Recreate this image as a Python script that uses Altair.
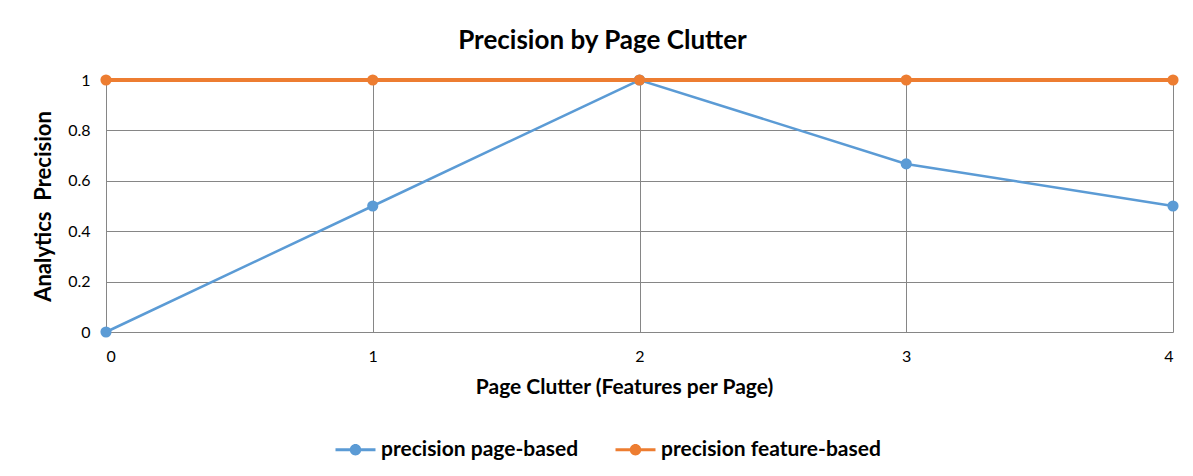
import altair as alt
import pandas as pd

clutter = [0, 1, 2, 3, 4]
page_based = [0, 0.5, 1, 0.667, 0.5]
feature_based = [1, 1, 1, 1, 1]
series_names = ["precision page-based", "precision feature-based"]
colors = ["#5B9BD5", "#ED7D31"]
line_widths = [2.5, 4]

rows = []
for x, v in zip(clutter, page_based):
    rows.append({"x": x, "y": v, "series": series_names[0]})
for x, v in zip(clutter, feature_based):
    rows.append({"x": x, "y": v, "series": series_names[1]})
df = pd.DataFrame(rows)

FONT = "Lato"
GRID = "#868686"

xenc = alt.X("x:Q", scale=alt.Scale(domain=[0, 4], nice=False),
             axis=alt.Axis(values=clutter, format="d", title="Page Clutter (Features per Page)",
                           grid=True, gridColor=GRID, gridOpacity=1, ticks=False, domain=False,
                           labelFont=FONT, labelFontSize=16, labelPadding=16, labelColor="#000000",
                           titleFont=FONT, titleFontSize=21, titleFontWeight="bold", titlePadding=12,
                           titleColor="#000000", titleX=518))
yenc = alt.Y("y:Q", scale=alt.Scale(domain=[0, 1], nice=False),
             axis=alt.Axis(values=[0, 0.2, 0.4, 0.6, 0.8, 1], format="~g",
                           title="Analytics\u00a0 Precision",
                           grid=True, gridColor=GRID, gridOpacity=1, ticks=False, domain=False,
                           labelFont=FONT, labelFontSize=16, labelPadding=16, labelColor="#000000",
                           titleFont=FONT, titleFontSize=22, titleFontWeight="bold", titlePadding=12,
                           titleColor="#000000"))

symbol = ("M-1.5,-0.11 H1.5 V0.11 H-1.5 Z "
          "M0.43,0 A0.43,0.43 0 1,1 -0.43,0 A0.43,0.43 0 1,1 0.43,0 Z")

cscale = alt.Scale(domain=series_names, range=colors)
legend = alt.Legend(orient="none", direction="horizontal", title=None,
                    legendX=236, legendY=356,
                    symbolType=symbol, symbolSize=711,
                    symbolStrokeWidth=0, symbolOpacity=1,
                    labelFontSize=21, labelFontWeight="bold",
                    labelColor="#000000", labelFont=FONT, labelLimit=400,
                    columnPadding=36, labelOffset=12)

layers = []
for i, name in enumerate(series_names):
    layers.append(
        alt.Chart(df).transform_filter(alt.datum.series == name)
        .mark_line(strokeWidth=line_widths[i])
        .encode(x=xenc, y=yenc,
                color=alt.Color("series:N", scale=cscale, legend=legend),
                order=alt.Order("x:Q"))
    )

points = alt.Chart(df).mark_point(filled=True, opacity=1, size=125).encode(
    x="x:Q", y="y:Q",
    color=alt.Color("series:N", scale=cscale, legend=legend),
)

chart = alt.layer(*layers, points).properties(
    width=1067, height=252,
    title=alt.TitleParams("Precision by Page Clutter", fontSize=26, fontWeight="bold",
                          font=FONT, color="#000000", offset=18, dx=-37),
    padding={"left": 98, "top": 72, "right": 10, "bottom": 135},
    autosize=alt.AutoSizeParams(type="none"),
    background="white",
).configure_view(stroke=None)

chart.save("out.html", embed_options={"renderer": "svg", "actions": False})
